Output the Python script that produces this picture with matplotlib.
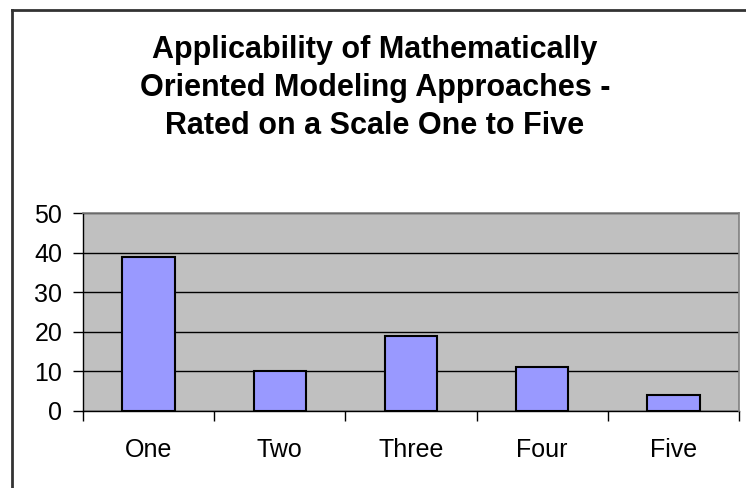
import matplotlib
matplotlib.use('Agg')
import matplotlib.pyplot as plt
from matplotlib.lines import Line2D

categories = ['One', 'Two', 'Three', 'Four', 'Five']
counts = [39, 10, 19, 11, 4]
yticks = [0, 10, 20, 30, 40, 50]
title = 'Applicability of Mathematically\nOriented Modeling Approaches -\nRated on a Scale One to Five'

plt.rcParams['font.family'] = ['Liberation Sans', 'DejaVu Sans']

fig = plt.figure(figsize=(7.46, 4.88), dpi=100)
ax = fig.add_axes([83/746, 1-410.7/488, (739-83)/746, (410.7-213.3)/488])
ax.set_facecolor('#C0C0C0')

x = list(range(len(categories)))
ax.bar(x, counts, width=0.4, color='#9999FF', edgecolor='black', linewidth=1.5, zorder=3)

ax.set_xlim(-0.5, len(categories) - 0.5)
ax.set_ylim(0, 50)
ax.set_yticks(yticks)
ax.yaxis.grid(True, color='black', linewidth=1, zorder=1)
ax.set_axisbelow(True)

ax.set_xticks(x)
ax.set_xticklabels(categories, fontsize=18)
ax.tick_params(axis='x', which='major', length=0, pad=20)
ax.set_xticks([i - 0.5 for i in range(len(categories) + 1)], minor=True)
ax.tick_params(axis='x', which='minor', length=7, width=1, color='black')
ax.tick_params(axis='y', length=7, width=1, pad=8, labelsize=18)

for s in ['left', 'bottom']:
    ax.spines[s].set_color('black')
    ax.spines[s].set_linewidth(1)
for s in ['top', 'right']:
    ax.spines[s].set_color('#808080')
    ax.spines[s].set_linewidth(1.2)
    ax.spines[s].set_zorder(4)

fig.text(375/746, 1-88/488, title, ha='center', va='center', multialignment='center',
         fontsize=22, fontweight='bold', linespacing=1.36)

# outer chart border (only left and top visible)
fig.add_artist(Line2D([12/746, 12/746], [0, 1-10/488], color='#333333', linewidth=2))
fig.add_artist(Line2D([12/746, 1], [1-10/488, 1-10/488], color='#333333', linewidth=2))

fig.savefig('out.png', dpi=100)
